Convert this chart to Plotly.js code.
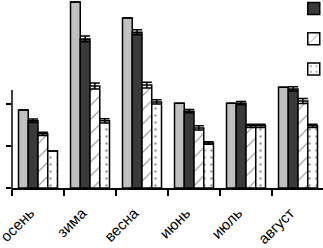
<!DOCTYPE html>
<html><head><meta charset="utf-8">
<script src="https://cdn.plot.ly/plotly-3.0.1.min.js"></script>
<style>html,body{margin:0;padding:0;overflow:hidden;background:#fff}#c{width:324px;height:248px}</style>
</head><body><div id="c"></div>
<script>
const categories = ['осень','зима','весна','июнь','июль','август'];
const seriesNames = ['Серия 1','Серия 2','Серия 3','Серия 4'];
const s1 = [1.86, 4.43, 4.05, 2.02, 2.02, 2.40];
const s2 = [1.60, 3.55, 3.71, 1.83, 2.02, 2.36];
const s3 = [1.29, 2.43, 2.45, 1.43, 1.48, 2.07];
const s4 = [0.88, 1.60, 2.05, 1.07, 1.48, 1.48];
const e1 = [0, 0, 0, 0, 0, 0];
const e2 = [0.04, 0.07, 0.06, 0.04, 0.04, 0.05];
const e3 = [0.04, 0.07, 0.07, 0.05, 0.04, 0.06];
const e4 = [0, 0.05, 0.05, 0.03, 0.04, 0.04];
const yTicks = [0, 1, 2];

const line = {color:'#000', width:1.5};
const err = arr => ({type:'data', array:arr, visible:true, color:'#000', thickness:1.5, width:5});
const traces = [
  {type:'bar', name:seriesNames[0], x:categories, y:s1, error_y:err(e1),
   marker:{color:'#c0c0c0', line:line}},
  {type:'bar', name:seriesNames[1], x:categories, y:s2, error_y:err(e2),
   marker:{color:'#3a3a3a', line:line}},
  {type:'bar', name:seriesNames[2], x:categories, y:s3, error_y:err(e3),
   marker:{color:'#fff', line:line, pattern:{shape:'/', size:10, solidity:0.1, fgcolor:'#888', bgcolor:'#fff'}}},
  {type:'bar', name:seriesNames[3], x:categories, y:s4, error_y:err(e4),
   marker:{color:'#fff', line:line, pattern:{shape:'.', size:7, solidity:0.1, fgcolor:'#999', bgcolor:'#fff'}}}
];
const H = 188, unit = 42;
const layout = {
  width:324, height:248,
  margin:{l:12, r:0, t:0, b:60, autoexpand:false},
  paper_bgcolor:'#fff', plot_bgcolor:'#fff',
  barmode:'group', bargap:0.25, bargroupgap:0,
  font:{family:'Liberation Sans, Arial, sans-serif', size:15, color:'#000'},
  showlegend:true,
  legend:{x:0.887, xanchor:'left', y:1 + 42/H, yanchor:'top', bgcolor:'rgba(0,0,0,0)',
          font:{size:21}, traceorder:'normal', borderwidth:0, itemwidth:40},
  xaxis:{type:'category', showline:true, linecolor:'#000', linewidth:1.5,
         ticks:'outside', tickson:'boundaries', ticklen:6, tickwidth:1.5, tickcolor:'#000',
         tickangle:-45, ticklabelshift:-8, ticklabelstandoff:9,
         showgrid:false, zeroline:false, fixedrange:true},
  yaxis:{range:[0, H/unit], showline:false, showgrid:false, zeroline:false,
         tickvals:yTicks, ticks:'outside', ticklen:5, tickwidth:1.5, tickcolor:'#000',
         showticklabels:false, fixedrange:true},
  shapes:[{type:'line', xref:'paper', yref:'paper', x0:0, x1:0, y0:-5/H, y1:98/H,
           line:{color:'#000', width:1.5}}]
};
Plotly.newPlot('c', traces, layout, {displayModeBar:false, staticPlot:true});
</script></body></html>
